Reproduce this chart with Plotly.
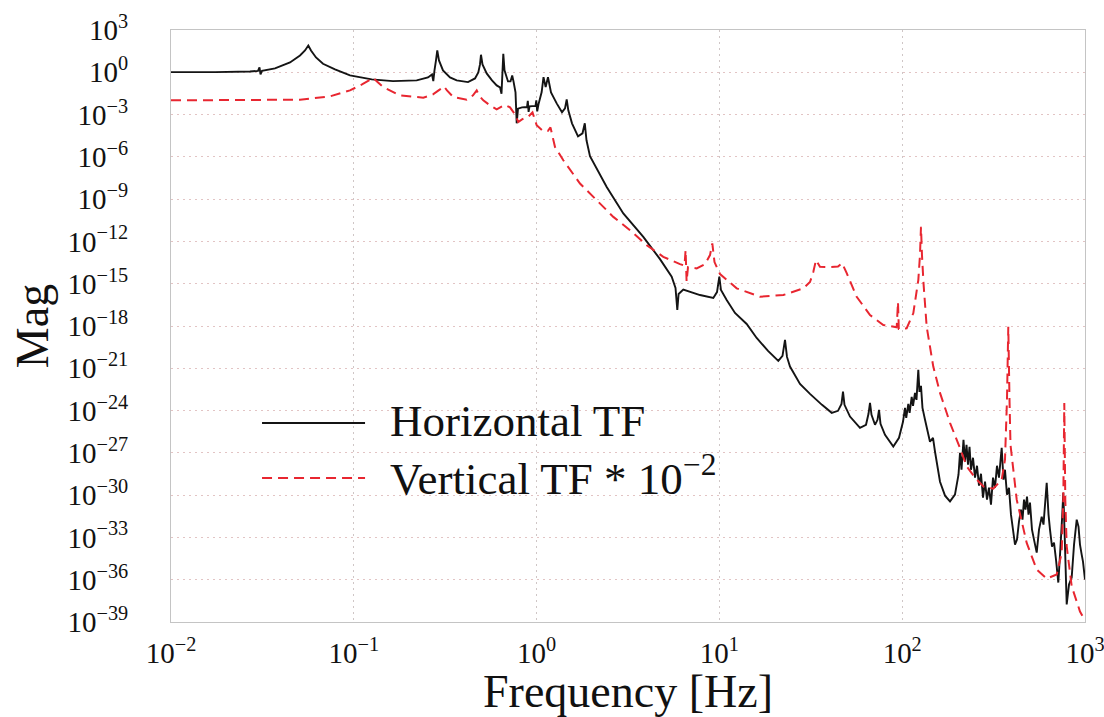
import plotly.graph_objects as go

# Horizontal transfer function magnitude (frequency in Hz)
h_freq = [
    0.01, 0.01742, 0.02704, 0.02992, 0.03049, 0.03088, 0.03147, 0.03706, 0.04477, 0.05078,
    0.05408, 0.05638, 0.05833, 0.06212, 0.06784, 0.07891, 0.09533, 0.1253, 0.1638, 0.2208,
    0.2546, 0.2678, 0.2722, 0.2763, 0.2816, 0.2862, 0.2924, 0.3076, 0.3360, 0.3655,
    0.4214, 0.4603, 0.4799, 0.4902, 0.4963, 0.5058, 0.5333, 0.5702, 0.6050, 0.6307,
    0.6427, 0.6493, 0.6574, 0.6675, 0.6974, 0.7198, 0.7354, 0.7475, 0.7667, 0.7783,
    0.7911, 0.8319, 0.8861, 0.8952, 0.9041, 0.9146, 0.9863, 0.9963, 1.0076, 1.024,
    1.066, 1.091, 1.121, 1.154, 1.199, 1.288, 1.377, 1.430, 1.461, 1.491,
    1.562, 1.685, 1.783, 1.835, 1.875, 1.959, 2.418, 2.981, 3.835, 4.732,
    5.483, 5.753, 5.884, 5.981, 6.346, 7.833, 9.260, 9.703, 9.990, 10.20,
    10.96, 12.17, 14.10, 15.99, 18.45, 21.00, 22.14, 22.85, 23.43, 24.33,
    27.60, 31.30, 36.41, 41.15, 44.55, 46.56, 47.44, 48.34, 51.81, 58.76,
    63.39, 65.41, 66.67, 67.94, 71.00, 73.27, 74.67, 76.09, 80.52, 89.40,
    96.05, 101.0, 103.6, 105.2, 108.0, 109.8, 112.7, 114.6, 117.5, 119.7,
    122.5, 124.3, 126.7, 129.1, 133.3, 141.9, 147.4, 151.2, 161.0, 171.5,
    182.6, 194.4, 203.2, 207.1, 211.1, 216.4, 220.6, 224.8, 229.1, 233.5,
    237.9, 244.0, 250.2, 256.6, 263.1, 269.8, 276.7, 283.8, 291.0, 298.4,
    306.0, 313.9, 321.9, 330.0, 338.4, 350.1, 358.2, 365.0, 374.3, 383.8,
    393.6, 403.7, 414.0, 424.6, 435.4, 446.6, 455.1, 463.8, 472.6, 481.6,
    490.8, 500.1, 512.9, 526.0, 544.2, 560.3, 579.6, 592.9, 617.3, 631.6,
    643.5, 659.9, 676.7, 694.0, 714.5, 730.0, 748.5, 760.8, 772.5, 794.1,
    817.5, 845.6, 870.9, 900.9, 921.5, 938.8, 959.2, 975.0, 1000.0,
]
h_mag = [
    1.03, 1.03, 1.15, 1.25, 2.21, 0.705, 1.29, 1.88, 4.99, 15.6,
    35.3, 79.8, 35.3, 11.3, 4.04, 1.60, 0.600, 0.312, 0.237, 0.265,
    0.433, 0.705, 0.237, 1.36, 6.92, 35.3, 6.92, 1.36, 0.433, 0.265,
    0.201, 0.367, 0.977, 3.60, 17.5, 3.60, 0.830, 0.265, 0.117, 0.0847,
    0.0303, 0.600, 20.6, 1.36, 0.225, 0.225, 0.600, 0.225, 0.0375, 2.39e-4,
    2.62e-3, 3.24e-3, 3.41e-3, 9.37e-3, 1.56e-3, 3.82e-3, 4.15e-3, 1.02e-2, 1.69e-3, 5.30e-3,
    0.0394, 0.454, 0.0889, 0.454, 0.0375, 6.24e-3, 1.44e-3, 2.76e-3, 0.0120, 1.99e-3,
    2.39e-4, 2.86e-5, 4.68e-5, 2.39e-4, 1.49e-5, 1.10e-6, 7.36e-9, 9.62e-11, 2.12e-12, 5.57e-14,
    3.11e-15, 4.93e-16, 1.36e-17, 1.85e-16, 3.86e-16, 1.57e-16, 9.64e-17, 2.56e-16, 3.21e-15, 3.56e-16,
    6.97e-17, 8.36e-18, 1.39e-18, 1.42e-19, 1.70e-20, 3.33e-21, 7.53e-21, 1.02e-19, 6.40e-21, 1.32e-21,
    7.83e-23, 1.53e-23, 2.55e-24, 6.92e-25, 9.57e-25, 3.00e-24, 2.23e-23, 2.55e-24, 3.78e-25, 6.00e-26,
    9.77e-26, 5.87e-25, 3.53e-24, 4.99e-25, 9.77e-26, 2.21e-25, 1.13e-24, 1.15e-25, 1.91e-26, 2.84e-27,
    1.17e-26, 1.59e-25, 1.56e-24, 3.06e-25, 3.00e-24, 6.92e-25, 9.40e-24, 2.17e-24, 1.80e-23, 5.77e-24,
    7.67e-22, 2.12e-23, 5.65e-23, 1.56e-24, 2.21e-25, 6.11e-27, 1.17e-26, 1.20e-27, 8.97e-30, 9.16e-31,
    3.61e-31, 1.08e-30, 2.81e-29, 1.02e-27, 6.35e-29, 8.47e-27, 2.34e-28, 3.75e-27, 1.44e-28, 2.70e-27,
    6.35e-29, 4.50e-28, 1.73e-29, 1.22e-28, 4.68e-30, 3.31e-29, 6.61e-31, 8.97e-30, 4.76e-31, 3.37e-30,
    2.11e-31, 1.73e-29, 3.37e-30, 1.22e-28, 1.73e-29, 2.30e-27, 1.24e-29, 6.35e-29, 1.08e-30, 3.37e-30,
    4.13e-32, 3.58e-33, 3.10e-34, 7.01e-34, 1.32e-32, 9.33e-32, 1.83e-32, 4.76e-31, 9.33e-32, 7.78e-31,
    4.13e-32, 2.92e-31, 3.58e-33, 7.01e-34, 8.41e-35, 3.58e-33, 2.98e-32, 8.09e-33, 7.62e-30, 4.13e-32,
    3.58e-33, 2.24e-34, 4.30e-34, 2.69e-35, 6.31e-37, 6.07e-35, 1.83e-32, 1.49e-30, 3.58e-33, 1.75e-38,
    4.56e-37, 1.43e-36, 3.10e-34, 1.83e-32, 5.83e-33, 3.10e-34, 6.07e-35, 1.94e-35, 1.03e-36,
]

# Vertical transfer function magnitude, scaled by 1e-2
v_freq = [
    0.01, 0.05078, 0.0741, 0.09533, 0.1109, 0.1227, 0.1279, 0.1339, 0.1450, 0.1789,
    0.2400, 0.2712, 0.2962, 0.3113, 0.3234, 0.3502, 0.4146, 0.4489, 0.4702, 0.4840,
    0.5109, 0.5560, 0.6050, 0.6467, 0.6718, 0.7153, 0.7618, 0.7943, 0.8319, 0.8974,
    0.9497, 1.001, 1.088, 1.154, 1.191, 1.222, 1.261, 1.400, 1.727, 2.132,
    2.628, 3.243, 4.003, 4.933, 6.088, 6.443, 6.533, 6.616, 6.733, 7.511,
    8.342, 8.884, 9.146, 9.402, 10.08, 12.43, 16.68, 22.37, 28.77, 31.30,
    32.63, 33.76, 35.50, 40.27, 44.55, 46.85, 49.71, 56.37, 66.67, 78.81,
    93.30, 94.84, 95.81, 105.8, 115.0, 122.5, 125.1, 126.7, 128.3, 130.8,
    136.1, 147.9, 161.0, 182.6, 207.1, 225.4, 250.2, 277.8, 315.1, 350.1,
    365.0, 374.3, 380.5, 386.4, 391.2, 423.1, 479.8, 544.2, 617.3, 700.1,
    745.6, 760.8, 770.5, 780.2, 794.1, 845.6, 938.8, 1000.0,
]
v_mag = [
    1.02e-2, 1.14e-2, 1.95e-2, 5.19e-2, 0.138, 0.288, 0.399, 0.225, 8.89e-2, 2.30e-2,
    1.58e-2, 2.70e-2, 6.11e-2, 9.98e-2, 5.19e-2, 1.74e-2, 1.14e-2, 2.30e-2, 5.19e-2, 2.30e-2,
    1.02e-2, 4.50e-3, 2.34e-3, 3.82e-3, 4.88e-3, 3.24e-3, 1.04e-3, 2.95e-4, 4.58e-4, 6.67e-4,
    1.44e-3, 1.73e-4, 6.48e-5, 7.03e-5, 1.24e-4, 2.86e-5, 5.01e-6, 5.73e-7, 1.28e-8, 8.41e-10,
    5.52e-11, 6.31e-12, 5.47e-13, 8.11e-14, 2.47e-14, 1.93e-14, 2.42e-13, 1.38e-15, 1.51e-14, 1.22e-14,
    2.47e-14, 1.07e-13, 7.21e-13, 3.42e-14, 4.83e-15, 4.69e-16, 1.19e-16, 1.57e-16, 4.69e-16, 1.31e-15,
    6.70e-15, 4.74e-14, 1.59e-14, 1.51e-14, 1.64e-14, 2.90e-14, 5.69e-15, 1.19e-16, 6.03e-18, 1.18e-18,
    8.11e-19, 5.02e-17, 6.15e-19, 6.90e-19, 7.96e-18, 1.82e-15, 1.07e-13, 1.08e-11, 1.07e-13, 1.06e-15,
    8.95e-19, 1.32e-21, 1.80e-23, 1.35e-25, 2.19e-27, 1.09e-28, 1.73e-29, 4.17e-30, 2.86e-30, 1.24e-29,
    3.24e-28, 5.77e-24, 8.95e-19, 5.77e-24, 3.75e-27, 4.76e-31, 4.09e-34, 5.26e-36, 1.21e-36, 2.33e-36,
    8.02e-35, 4.76e-31, 3.37e-24, 4.76e-31, 2.35e-34, 3.45e-37, 5.57e-39, 1.29e-39,
]

# Axis ticks: decades on x, every third decade on y
x_tick_exponents = [-2, -1, 0, 1, 2, 3]
y_tick_exponents = [3, 0, -3, -6, -9, -12, -15, -18, -21, -24, -27, -30, -33, -36, -39]

series_names = ["Horizontal TF", "Vertical TF * 10<sup>\u22122</sup>"]
series_colors = ["#141414", "#e82630"]


def power_label(e):
    return "10<sup>" + ("\u2212" if e < 0 else "") + str(abs(e)) + "</sup>"


SERIF = "Liberation Serif"

fig = go.Figure()
fig.add_trace(go.Scatter(
    x=h_freq, y=h_mag, mode="lines", name=series_names[0],
    line=dict(color=series_colors[0], width=1.9, simplify=False),
    showlegend=False,
))
fig.add_trace(go.Scatter(
    x=v_freq, y=v_mag, mode="lines", name=series_names[1],
    line=dict(color=series_colors[1], width=2, dash="10px,6px", simplify=False),
    showlegend=False,
))

grid_common = dict(
    showgrid=True, griddash="2px,4px", gridwidth=1,
    showline=True, mirror=True, linecolor="#c4c4c4", linewidth=1,
    ticks="", zeroline=False, automargin=False, ticklabeloverflow="allow",
    tickfont=dict(family=SERIF, size=29, color="#111111"),
)

fig.update_xaxes(
    type="log", range=[-2, 3],
    tickvals=[10.0 ** e for e in x_tick_exponents],
    ticktext=[power_label(e) for e in x_tick_exponents],
    gridcolor="#cfc6c6", ticklabelstandoff=5,
    title=dict(text="Frequency [Hz]", font=dict(family=SERIF, size=46, color="#111111"), standoff=0),
    **grid_common,
)
fig.update_yaxes(
    type="log", range=[-39, 3],
    tickvals=[10.0 ** e for e in y_tick_exponents],
    ticktext=[power_label(e) for e in y_tick_exponents],
    gridcolor="#e2c4c4", ticklabelstandoff=36,
    title=dict(text="Mag", font=dict(family=SERIF, size=46, color="#111111"), standoff=4),
    **grid_common,
)

# Legend drawn inside the axes: sample line + label for each series
legend_rows = [
    dict(y=0.3361, dash="solid", width=1.9),
    dict(y=0.2432, dash="10px,6px", width=2),
]
for name, color, row in zip(series_names, series_colors, legend_rows):
    fig.add_shape(
        type="line", xref="paper", yref="paper",
        x0=0.0996, x1=0.2123, y0=row["y"], y1=row["y"],
        line=dict(color=color, width=row["width"], dash=row["dash"]),
    )
    fig.add_annotation(
        xref="paper", yref="paper", x=0.2374, y=row["y"] + 0.004,
        xanchor="left", yanchor="middle", showarrow=False,
        text=name, font=dict(family=SERIF, size=45, color="#111111"),
    )

fig.update_layout(
    width=1104, height=717,
    margin=dict(l=171, r=19, t=30, b=95),
    paper_bgcolor="white", plot_bgcolor="white",
    showlegend=False,
)

fig.write_html("out.html")
